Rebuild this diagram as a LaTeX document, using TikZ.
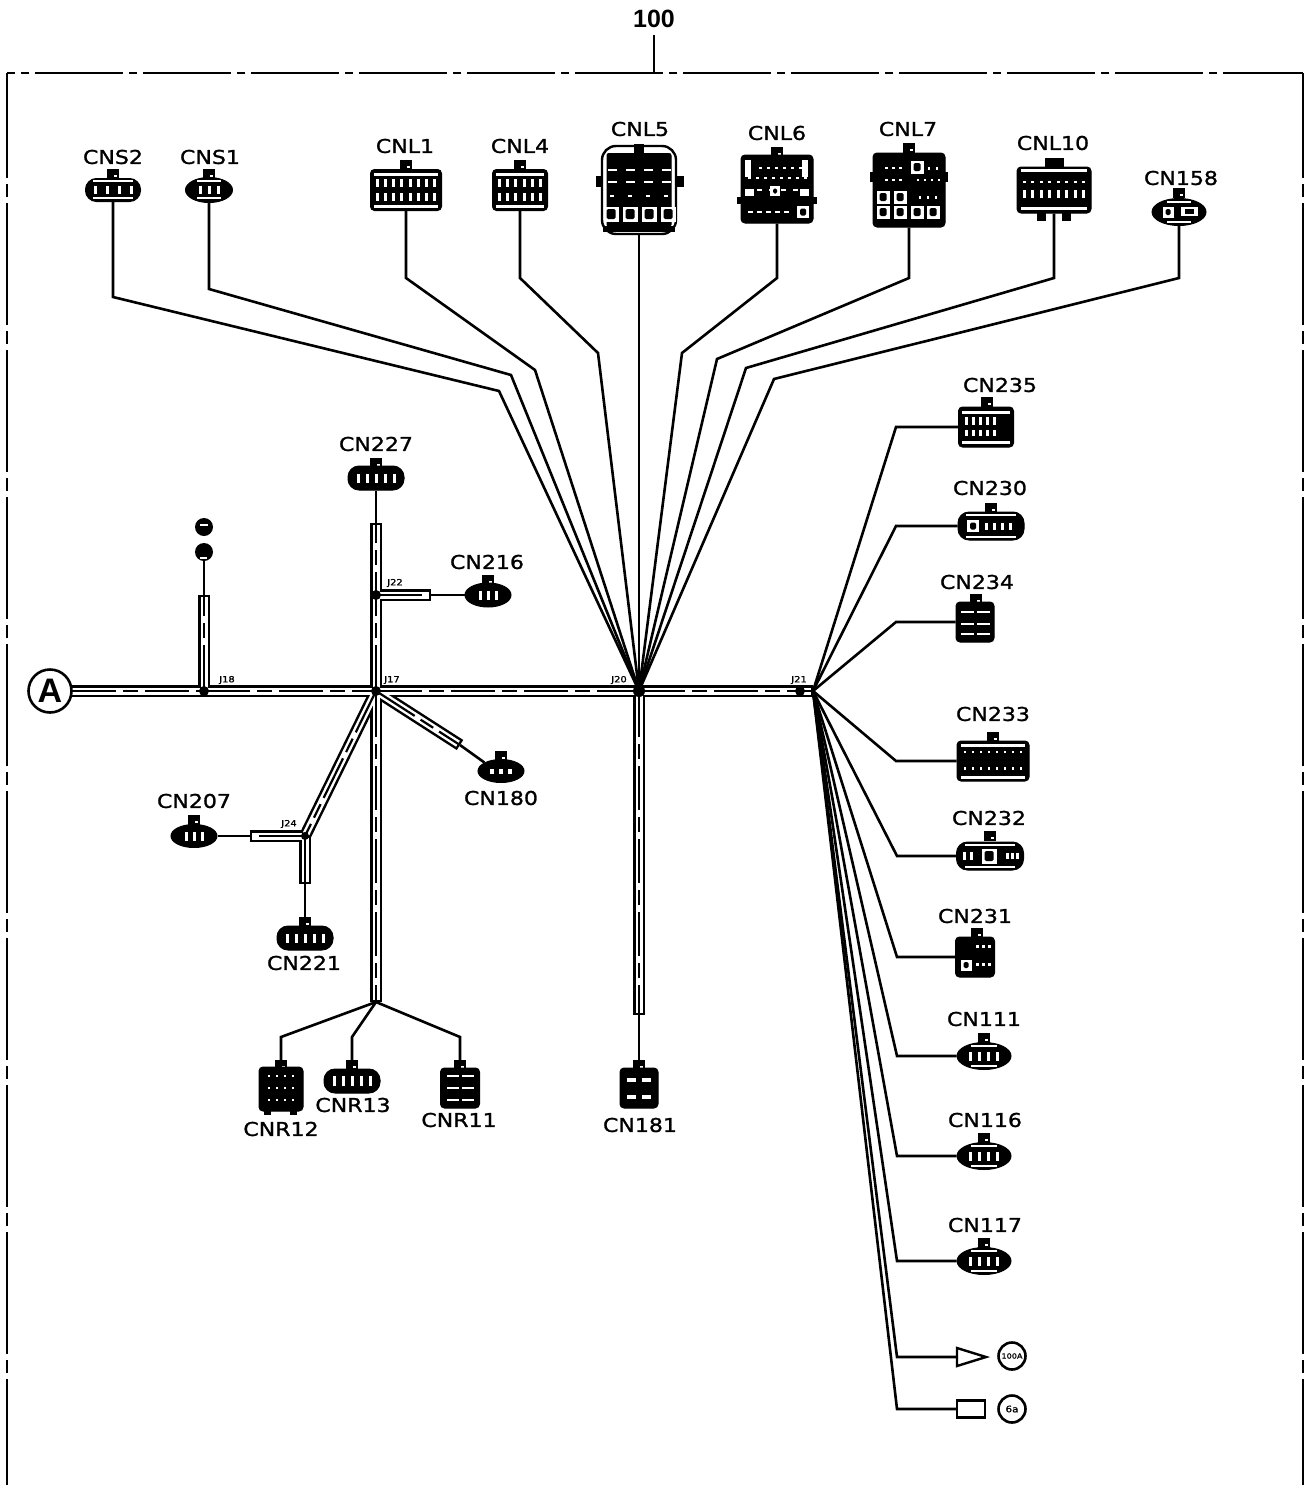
\documentclass[tikz,border=0pt]{standalone}
\usepackage{fontspec}
\usetikzlibrary{shapes.geometric}
\newfontfamily\lab[FakeStretch=1.16,FakeBold=1.3]{DejaVu Sans}
\newfontfamily\bigf{Liberation Sans}
\tikzset{
  wire/.style={line width=2.6pt,line join=miter},
  frameline/.style={line width=2.3pt},
  bunouter/.style={line width=12pt,black},
  bunwhite/.style={line width=7pt,white,shorten <=2.4pt,shorten >=2.4pt},
  bundash/.style={line width=2.2pt,black,dash pattern=on 44pt off 7pt on 15pt off 7pt,shorten <=2pt,shorten >=2pt},
  plugR/.style={rectangle,rounded corners=4pt},
  plugP/.style={rectangle,rounded corners=11pt},
  plugE/.style={ellipse},
  plugbody/.style={draw=black,fill=black,line width=1pt,inner sep=0pt},
  tabnode/.style={fill=black,minimum width=12pt,minimum height=10pt,inner sep=0pt},
  plate/.style={font=\lab\fontsize{19}{19}\selectfont,inner sep=0pt,text=black},
  jlabel/.style={font=\lab\fontsize{8.5}{8.5}\selectfont,inner sep=0pt},
  jdot/.style={circle,fill=black,minimum size=10pt,inner sep=0pt},
  earth/.style={circle,fill=black,minimum size=18pt,inner sep=0pt},
  ringnode/.style={circle,draw=black,line width=2.6pt,fill=white,minimum size=27pt,inner sep=0pt},
  outlinebox/.style={draw=black,line width=2.4pt,fill=white,inner sep=0pt},
}
% name, shape, cx, cy, w, h, label, lx, ly
\newcommand\plug[9]{%
  \node[plugbody,#2,minimum width=#5pt,minimum height=#6pt] (#1) at (#3,#4) {};
  \node[plate] (#1-label) at (#8,#9) {#7};}
\newcommand\plugtab[3]{%
  \node[tabnode] (#1-tab) at (#2,#3) {};
  \fill[white] ({#2+1},{#3+1}) rectangle +(3,1.5);}
% cx, cy, n, step, w, h
\newcommand\pins[6]{%
  \foreach \i in {1,...,#3}{\fill[white] ({#1+(\i-(#3+1)/2)*#4-#5/2},{#2-#6/2}) rectangle +(#5,#6);}}
\newcommand\sq[3]{%
  \fill[white] ({#1-#3/2},{#2-#3/2}) rectangle +(#3,#3);
  \fill[black,rounded corners=1.5pt] ({#1-#3/2+3},{#2-#3/2+2.5}) rectangle +(#3-6,#3-5);}
\begin{document}
\begin{tikzpicture}[x=1pt,y=-1pt]
\useasboundingbox (0,0) rectangle (1308,1485);
% frame
\coordinate (fTL) at (7,73);
\coordinate (fTR) at (1303,73);
\coordinate (fBL) at (7,1485);
\coordinate (fBR) at (1303,1485);
\draw[frameline,dash pattern=on 88pt off 6pt on 8pt off 6pt,dash phase=80pt] (fTL) -- (fTR);
\draw[frameline,dash pattern=on 122pt off 6pt on 13pt off 6pt,dash phase=17pt] (fTL) -- (fBL);
\draw[frameline,dash pattern=on 122pt off 6pt on 13pt off 6pt,dash phase=17pt] (fTR) -- (fBR);
\node[font=\bigf\bfseries\fontsize{25}{25}\selectfont,inner sep=0pt] (title) at (654,19) {100};
\coordinate (titlefoot) at (title.south |- fTL);
\draw[frameline] ([yshift=-7pt]title.south) -- (titlefoot);
% hubs
\coordinate (h18) at (204,691);
\coordinate (h17) at (376,691);
\coordinate (h20) at (639,691);
\coordinate (h21) at (813,691);
\coordinate (h22) at (376,595);
\coordinate (h24) at (305,836);
\coordinate (h40) at (376,1002);
\coordinate (aEnd) at (70,691);
\coordinate (e18) at (204,595);
\coordinate (e27) at (376,523);
\coordinate (e16) at (431,595);
\coordinate (e80) at (460,745);
\coordinate (e07) at (250,836);
\coordinate (e21) at (305,884);
\coordinate (e81) at (639,1015);
% bundles
\foreach \a/\b in {aEnd/h18,h18/h17,h17/h20,h20/h21,h18/e18,h17/e27,h22/e16,h17/e80,h17/h24,h24/e07,h24/e21,h17/h40,h20/e81}{\draw[bunouter] (\a) -- (\b);}
\foreach \a/\b in {aEnd/h18,h18/h17,h17/h20,h20/h21,h18/e18,h17/e27,h22/e16,h17/e80,h17/h24,h24/e07,h24/e21,h17/h40,h20/e81}{\draw[bunwhite] (\a) -- (\b);}
\foreach \a/\b in {aEnd/h18,h18/h17,h17/h20,h20/h21,h18/e18,h17/e27,h22/e16,h17/e80,h17/h24,h24/e07,h24/e21,h17/h40,h20/e81}{\draw[bundash] (\a) -- (\b);}
% junction dots
\node[jdot] (J18) at (h18) {};
\node[jdot] (J17) at (h17) {};
\node[jdot,minimum size=12pt] (J20) at (h20) {};
\node[jdot] (J21) at (800,691) {};
\node[jdot] (J22) at (h22) {};
\node[jdot,minimum size=8pt] (J24) at (h24) {};
\node[jlabel] (J18-l) at (227,680) {J18};
\node[jlabel] (J17-l) at (392,680) {J17};
\node[jlabel] (J20-l) at (619,680) {J20};
\node[jlabel] (J21-l) at (799,680) {J21};
\node[jlabel] (J22-l) at (395,583) {J22};
\node[jlabel] (J24-l) at (289,824) {J24};
% A
\node[circle,draw=black,line width=2.6pt,fill=white,minimum size=43pt,inner sep=0pt,font=\bigf\bfseries\fontsize{34}{34}\selectfont] (A) at (50,691) {A};
% earth pair
\node[earth] (E1) at (204,527) {};
\node[earth] (E2) at (204,552) {};
\fill[white] (200,524) rectangle +(8,1.5);
\fill[white] (200,557) rectangle +(7,1.5);
\draw[wire] (E2) -- (e18);
% ===== top row
\plugtab{CNS2}{113}{174}
\plug{CNS2}{plugP}{113}{190}{55}{23}{CNS2}{113}{157}
\pins{113}{181}{1}{1}{40}{1.3}\pins{113}{198}{1}{1}{40}{1.3}\pins{113}{190}{4}{12}{3}{8}
\plugtab{CNS1}{209}{174}
\plug{CNS1}{plugE}{209}{190}{47}{25}{CNS1}{210}{157}
\pins{209}{181}{1}{1}{24}{1.3}\pins{209}{198}{1}{1}{24}{1.3}\pins{209}{190}{3}{9}{3}{8}
\plugtab{CNL1}{406}{165}
\plug{CNL1}{plugR}{406}{190}{71}{41}{CNL1}{405}{146}
\pins{406}{174}{1}{1}{64}{3}\pins{406}{206}{1}{1}{64}{3}\pins{406}{183}{8}{8.2}{3}{8}\pins{406}{197}{8}{8.2}{3}{8}
\plugtab{CNL4}{520}{165}
\plug{CNL4}{plugR}{520}{190}{55}{41}{CNL4}{520}{146}
\pins{520}{174}{1}{1}{48}{3}\pins{520}{206}{1}{1}{48}{3}\pins{520}{183}{6}{8.2}{3}{8}\pins{520}{197}{6}{8.2}{3}{8}
% CNL5
\fill[black] (596,176) rectangle +(88,11);
\node[plugbody,fill=white,line width=2.4pt,rectangle,rounded corners=14pt,minimum width=74pt,minimum height=88pt] (CNL5) at (639,190) {};
\node[plugbody,rectangle,rounded corners=2pt,minimum width=64pt,minimum height=73pt] (CNL5-core) at (639,190) {};
\node[plate] (CNL5-label) at (640,129) {CNL5};
\node[tabnode,minimum height=24pt,minimum width=10pt] (CNL5-tab) at (639,156) {};
\fill[black] (603,226) rectangle +(72,6);
\pins{639}{170}{4}{18}{9}{2}\pins{639}{182}{4}{18}{9}{2}\pins{639}{196}{4}{18}{4}{2}
\sq{611}{214}{15}\sq{630}{214}{15}\sq{649}{214}{15}\sq{668}{214}{15}
% CNL6
\fill[black] (737,197) rectangle +(80,7);
\plugtab{CNL6}{777}{152}
\plug{CNL6}{plugR}{777}{189}{72}{68}{CNL6}{777}{133}
\fill[white] (745,160) rectangle +(6,17);\fill[white] (802,160) rectangle +(6,17);
\fill[white] (745,189) rectangle +(9,7);\fill[white] (800,189) rectangle +(9,7);
\pins{780}{168}{6}{8}{3}{2}\pins{777}{178}{8}{8}{3}{2}\pins{777}{190}{4}{12}{5}{2}\pins{768}{212}{5}{9}{5}{2}
\sq{803}{212}{12}\sq{775}{191}{10}
% CNL7
\fill[black] (870,172) rectangle +(78,10);
\plugtab{CNL7}{909}{148}
\plug{CNL7}{plugR}{909}{190}{72}{74}{CNL7}{908}{129}
\pins{893}{168}{3}{7}{3}{2}\pins{893}{180}{3}{7}{3}{2}\pins{933}{168}{2}{8}{2}{3}\pins{928}{180}{4}{7}{2}{2}\pins{928}{197}{3}{8}{2}{3}
\sq{917}{167}{13}\sq{883}{197}{13}\sq{900}{197}{13}
\sq{883}{212}{13}\sq{900}{212}{13}\sq{917}{212}{13}\sq{933}{212}{13}
% CNL10
\fill[black] (1037,213) rectangle +(9,8);\fill[black] (1062,213) rectangle +(9,8);
\node[tabnode,minimum width=19pt,minimum height=11pt] (CNL10-tab) at (1054,163) {};
\plug{CNL10}{plugR}{1054}{190}{74}{46}{CNL10}{1053}{143}
\pins{1054}{170}{1}{1}{66}{3}\pins{1054}{208}{1}{1}{66}{3}\pins{1054}{182}{8}{8.5}{3}{2}\pins{1054}{194}{8}{8.5}{3}{8}
% CN158
\plugtab{CN158}{1179}{193}
\plug{CN158}{plugE}{1179}{212}{54}{27}{CN158}{1181}{178}
\pins{1179}{202}{1}{1}{24}{1.5}\pins{1179}{222}{1}{1}{24}{1.5}\sq{1168}{212}{11}\fill[white] (1181,207) rectangle +(17,9);\fill[black] (1185,209) rectangle +(9,5);
% wires
\draw[wire] (CNS2.south) -- (113,297) -- (499,391) -- (h20);
\draw[wire] (CNS1.south) -- (209,289) -- (511,375) -- (h20);
\draw[wire] (CNL1.south) -- (406,278) -- (535,370) -- (h20);
\draw[wire] (CNL4.south) -- (520,278) -- (598,353) -- (h20);
\draw[wire] (CNL5.south) -- (h20);
\draw[wire] (CNL6.south) -- (777,278) -- (682,353) -- (h20);
\draw[wire] (CNL7.south) -- (909,278) -- (717,359) -- (h20);
\draw[wire] (CNL10.south) -- (1054,278) -- (746,368) -- (h20);
\draw[wire] (CN158.south) -- (1179,278) -- (774,379) -- (h20);
% ===== centre left
\plugtab{CN227}{376}{463}
\plug{CN227}{plugP}{376}{478}{56}{24}{CN227}{376}{444}
\pins{376}{478}{5}{9}{3}{9}
\draw[wire] (CN227.south) -- (e27);
\plugtab{CN216}{488}{580}
\plug{CN216}{plugE}{488}{595}{46}{24}{CN216}{487}{562}
\pins{488}{595}{3}{8}{3}{9}
\draw[wire] (e16) -- (CN216.west);
\plugtab{CN180}{501}{756}
\plug{CN180}{plugE}{501}{771}{46}{23}{CN180}{501}{798}
\pins{501}{771}{3}{9}{4}{5}
\draw[wire] (e80) -- (CN180.north west);
\plugtab{CN207}{194}{820}
\plug{CN207}{plugE}{194}{836}{46}{23}{CN207}{194}{801}
\pins{194}{836}{3}{8}{3}{9}
\draw[wire] (CN207.east) -- (e07);
\plugtab{CN221}{305}{922}
\plug{CN221}{plugP}{305}{938}{56}{24}{CN221}{304}{963}
\pins{305}{938}{5}{9}{3}{9}
\draw[wire] (e21) -- (CN221-tab.north);
% ===== bottom group
\fill[black] (264,1108) rectangle +(7,7);\fill[black] (290,1108) rectangle +(7,7);
\plugtab{CNR12}{281}{1065}
\plug{CNR12}{plugR}{281}{1089}{44}{44}{CNR12}{281}{1129}
\pins{281}{1076}{4}{8}{2}{2}\pins{281}{1088}{4}{8}{2}{2}\pins{281}{1100}{4}{8}{2}{2}
\plugtab{CNR13}{352}{1065}
\plug{CNR13}{plugP}{352}{1081}{56}{24}{CNR13}{353}{1105}
\pins{352}{1081}{5}{9}{3}{10}
\plugtab{CNR11}{460}{1065}
\plug{CNR11}{plugR}{460}{1088}{39}{40}{CNR11}{459}{1120}
\pins{460}{1076}{2}{15}{12}{2}\pins{460}{1088}{2}{15}{12}{2}\pins{460}{1100}{2}{15}{12}{2}
\draw[wire] (CNR12-tab.north) -- (281,1037) -- (h40);
\draw[wire] (CNR13-tab.north) -- (352,1037) -- (h40);
\draw[wire] (CNR11-tab.north) -- (460,1037) -- (h40);
\plugtab{CN181}{639}{1065}
\plug{CN181}{plugR}{639}{1088}{38}{40}{CN181}{640}{1125}
\pins{639}{1080}{2}{15}{9}{4}\pins{639}{1097}{2}{15}{9}{4}
\draw[wire] (e81) -- (CN181-tab.north);
% ===== right column
\plugtab{CN235}{987}{402}
\plug{CN235}{plugR}{986}{427}{55}{40}{CN235}{1000}{385}
\pins{986}{412}{1}{1}{48}{3}\pins{986}{442}{1}{1}{48}{3}\pins{980}{421}{5}{7}{3}{8}\pins{980}{433}{5}{7}{3}{6}
\plugtab{CN230}{991}{508}
\plug{CN230}{plugP}{991}{526}{66}{28}{CN230}{990}{488}
\pins{991}{515}{1}{1}{50}{1.5}\pins{991}{537}{1}{1}{50}{1.5}\sq{973}{526}{12}\pins{998}{526}{4}{8}{3}{7}
\plugtab{CN234}{976}{599}
\plug{CN234}{plugR}{975}{622}{38}{40}{CN234}{977}{582}
\pins{975}{612}{2}{16}{13}{2}\pins{975}{624}{2}{16}{13}{2}\pins{975}{634}{2}{16}{13}{2}
\plugtab{CN233}{993}{737}
\plug{CN233}{plugR}{993}{761}{72}{40}{CN233}{993}{714}
\pins{993}{745}{1}{1}{64}{3}\pins{993}{777}{1}{1}{64}{3}\pins{993}{752}{8}{8}{2}{2}\pins{993}{768}{8}{8}{2}{3}
\plugtab{CN232}{990}{836}
\plug{CN232}{plugP}{990}{856}{67}{28}{CN232}{989}{818}
\pins{990}{845}{1}{1}{50}{1.5}\pins{990}{867}{1}{1}{50}{1.5}\sq{989}{856}{15}\pins{968}{856}{2}{7}{3}{8}\pins{1012}{856}{3}{5}{3}{6}
\plugtab{CN231}{977}{933}
\plug{CN231}{plugR}{975}{957}{39}{40}{CN231}{975}{916}
\sq{966}{965}{11}\pins{983}{946}{3}{6}{3}{3}\pins{983}{964}{3}{6}{3}{3}
\plugtab{CN111}{984}{1038}
\plug{CN111}{plugE}{984}{1056}{54}{27}{CN111}{984}{1019}
\pins{984}{1056}{4}{9}{3}{9}\pins{984}{1046}{1}{1}{26}{1.5}\pins{984}{1066}{1}{1}{26}{1.5}
\plugtab{CN116}{984}{1138}
\plug{CN116}{plugE}{984}{1156}{54}{27}{CN116}{985}{1120}
\pins{984}{1156}{4}{9}{3}{9}\pins{984}{1146}{1}{1}{26}{1.5}\pins{984}{1166}{1}{1}{26}{1.5}
\plugtab{CN117}{984}{1243}
\plug{CN117}{plugE}{984}{1261}{54}{27}{CN117}{985}{1225}
\pins{984}{1261}{4}{9}{3}{9}\pins{984}{1251}{1}{1}{26}{1.5}\pins{984}{1271}{1}{1}{26}{1.5}
% terminals
\coordinate (triA) at (957,1348);
\coordinate (triB) at (957,1366);
\coordinate (triC) at (986,1357);
\coordinate (triW) at (957,1357);
\draw[line width=2.4pt,fill=white,line join=miter] (triA) -- (triC) -- (triB) -- cycle;
\node[outlinebox,minimum width=28pt,minimum height=17pt] (boxT) at (971,1409) {};
\node[ringnode,font=\lab\fontsize{7}{7}\selectfont] (R1) at (1012,1356) {100A};
\node[ringnode,font=\lab\fontsize{9}{9}\selectfont] (R2) at (1012,1409) {6a};
% fan
\draw[wire] (CN235.west) -- (896,427) -- (h21);
\draw[wire] (CN230.west) -- (896,526) -- (h21);
\draw[wire] (CN234.west) -- (896,622) -- (h21);
\draw[wire] (CN233.west) -- (896,761) -- (h21);
\draw[wire] (CN232.west) -- (897,856) -- (h21);
\draw[wire] (CN231.west) -- (897,957) -- (h21);
\draw[wire] (CN111.west) -- (897,1056) -- (h21);
\draw[wire] (CN116.west) -- (897,1156) -- (h21);
\draw[wire] (CN117.west) -- (897,1261) -- (h21);
\draw[wire] (triW) -- (897,1357) -- (h21);
\draw[wire] (boxT.west) -- (897,1409) -- (h21);
\end{tikzpicture}
\end{document}
